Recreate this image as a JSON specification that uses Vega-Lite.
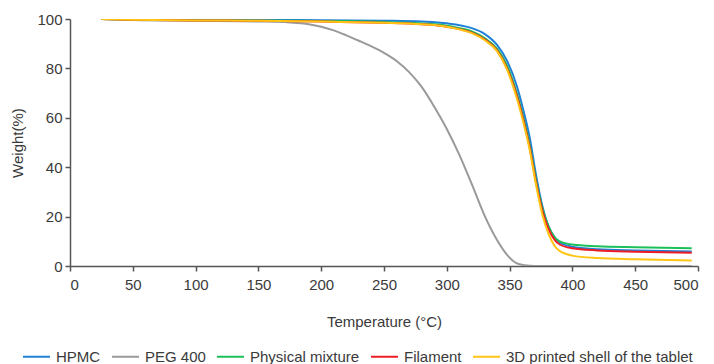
{
  "$schema": "https://vega.github.io/schema/vega-lite/v6.json",
  "width": 628,
  "height": 247,
  "autosize": "none",
  "padding": {"left": 70, "top": 19, "right": 16, "bottom": 98},
  "background": "white",
  "config": {
    "view": {"stroke": null},
    "font": "Liberation Sans",
    "axis": {"grid": false, "domainColor": "#555555", "domainWidth": 1.5, "tickColor": "#555555", "tickWidth": 1.5, "tickSize": 5, "labelFontSize": 15, "labelColor": "#3a3a3a", "titleFontSize": 15, "titleFontWeight": "normal", "titleColor": "#3a3a3a", "labelFont": "Liberation Sans", "titleFont": "Liberation Sans"}
  },
  "data": {"values": [
    {"s":"HPMC","t":25,"w":100},{"s":"HPMC","t":50,"w":99.8},{"s":"HPMC","t":100,"w":99.6},{"s":"HPMC","t":150,"w":99.6},{"s":"HPMC","t":200,"w":99.5},{"s":"HPMC","t":250,"w":99.3},{"s":"HPMC","t":280,"w":99},{"s":"HPMC","t":295,"w":98.5},{"s":"HPMC","t":310,"w":97.5},{"s":"HPMC","t":320,"w":96.3},{"s":"HPMC","t":330,"w":94},{"s":"HPMC","t":340,"w":89.5},{"s":"HPMC","t":348,"w":83},{"s":"HPMC","t":356,"w":72.5},{"s":"HPMC","t":361,"w":63},{"s":"HPMC","t":366,"w":52},{"s":"HPMC","t":371,"w":37},{"s":"HPMC","t":376,"w":24.5},{"s":"HPMC","t":381,"w":16},{"s":"HPMC","t":386,"w":11.5},{"s":"HPMC","t":390,"w":9.5},{"s":"HPMC","t":400,"w":7.8},{"s":"HPMC","t":420,"w":6.8},{"s":"HPMC","t":450,"w":6.3},{"s":"HPMC","t":495,"w":5.9},
    {"s":"PEG 400","t":25,"w":100},{"s":"PEG 400","t":50,"w":99.6},{"s":"PEG 400","t":100,"w":99.3},{"s":"PEG 400","t":150,"w":99},{"s":"PEG 400","t":175,"w":98.6},{"s":"PEG 400","t":190,"w":97.9},{"s":"PEG 400","t":200,"w":96.9},{"s":"PEG 400","t":210,"w":95.4},{"s":"PEG 400","t":220,"w":93.4},{"s":"PEG 400","t":230,"w":91.2},{"s":"PEG 400","t":240,"w":88.9},{"s":"PEG 400","t":250,"w":86.3},{"s":"PEG 400","t":260,"w":83},{"s":"PEG 400","t":270,"w":78.5},{"s":"PEG 400","t":280,"w":72.5},{"s":"PEG 400","t":290,"w":64.5},{"s":"PEG 400","t":300,"w":55.5},{"s":"PEG 400","t":310,"w":45},{"s":"PEG 400","t":320,"w":33},{"s":"PEG 400","t":330,"w":20.5},{"s":"PEG 400","t":340,"w":10.5},{"s":"PEG 400","t":348,"w":4.5},{"s":"PEG 400","t":355,"w":1.3},{"s":"PEG 400","t":362,"w":0.3},{"s":"PEG 400","t":370,"w":0},{"s":"PEG 400","t":400,"w":0},{"s":"PEG 400","t":450,"w":0},{"s":"PEG 400","t":495,"w":0},
    {"s":"Physical mixture","t":25,"w":100},{"s":"Physical mixture","t":50,"w":99.7},{"s":"Physical mixture","t":100,"w":99.5},{"s":"Physical mixture","t":150,"w":99.4},{"s":"Physical mixture","t":200,"w":99.2},{"s":"Physical mixture","t":250,"w":98.8},{"s":"Physical mixture","t":280,"w":98.2},{"s":"Physical mixture","t":295,"w":97.7},{"s":"Physical mixture","t":310,"w":96.3},{"s":"Physical mixture","t":320,"w":95},{"s":"Physical mixture","t":330,"w":92.3},{"s":"Physical mixture","t":340,"w":88},{"s":"Physical mixture","t":348,"w":81},{"s":"Physical mixture","t":356,"w":69.5},{"s":"Physical mixture","t":361,"w":60},{"s":"Physical mixture","t":366,"w":49},{"s":"Physical mixture","t":371,"w":35},{"s":"Physical mixture","t":376,"w":23.5},{"s":"Physical mixture","t":381,"w":16},{"s":"Physical mixture","t":386,"w":11.5},{"s":"Physical mixture","t":390,"w":10},{"s":"Physical mixture","t":400,"w":8.7},{"s":"Physical mixture","t":420,"w":8},{"s":"Physical mixture","t":450,"w":7.6},{"s":"Physical mixture","t":495,"w":7.2},
    {"s":"Filament","t":25,"w":100},{"s":"Filament","t":50,"w":99.7},{"s":"Filament","t":100,"w":99.4},{"s":"Filament","t":150,"w":99.3},{"s":"Filament","t":200,"w":99},{"s":"Filament","t":250,"w":98.5},{"s":"Filament","t":280,"w":97.9},{"s":"Filament","t":295,"w":97.3},{"s":"Filament","t":310,"w":95.9},{"s":"Filament","t":320,"w":94.5},{"s":"Filament","t":330,"w":91.8},{"s":"Filament","t":340,"w":87.3},{"s":"Filament","t":348,"w":80},{"s":"Filament","t":356,"w":68.5},{"s":"Filament","t":361,"w":59},{"s":"Filament","t":366,"w":48},{"s":"Filament","t":371,"w":34},{"s":"Filament","t":376,"w":22.5},{"s":"Filament","t":381,"w":15},{"s":"Filament","t":386,"w":10.5},{"s":"Filament","t":390,"w":8.7},{"s":"Filament","t":400,"w":7.2},{"s":"Filament","t":420,"w":6.3},{"s":"Filament","t":450,"w":5.8},{"s":"Filament","t":495,"w":5.4},
    {"s":"3D printed shell of the tablet","t":25,"w":100},{"s":"3D printed shell of the tablet","t":50,"w":99.7},{"s":"3D printed shell of the tablet","t":100,"w":99.4},{"s":"3D printed shell of the tablet","t":150,"w":99.3},{"s":"3D printed shell of the tablet","t":200,"w":99},{"s":"3D printed shell of the tablet","t":250,"w":98.5},{"s":"3D printed shell of the tablet","t":280,"w":97.9},{"s":"3D printed shell of the tablet","t":295,"w":97.3},{"s":"3D printed shell of the tablet","t":310,"w":95.8},{"s":"3D printed shell of the tablet","t":320,"w":94.3},{"s":"3D printed shell of the tablet","t":330,"w":91.5},{"s":"3D printed shell of the tablet","t":340,"w":87},{"s":"3D printed shell of the tablet","t":348,"w":79.5},{"s":"3D printed shell of the tablet","t":356,"w":67.5},{"s":"3D printed shell of the tablet","t":361,"w":58},{"s":"3D printed shell of the tablet","t":366,"w":47},{"s":"3D printed shell of the tablet","t":371,"w":33},{"s":"3D printed shell of the tablet","t":376,"w":21},{"s":"3D printed shell of the tablet","t":381,"w":13},{"s":"3D printed shell of the tablet","t":386,"w":8},{"s":"3D printed shell of the tablet","t":390,"w":6},{"s":"3D printed shell of the tablet","t":400,"w":4.2},{"s":"3D printed shell of the tablet","t":420,"w":3.2},{"s":"3D printed shell of the tablet","t":450,"w":2.7},{"s":"3D printed shell of the tablet","t":495,"w":2.2}
  ]},
  "mark": {"type": "line", "strokeWidth": 2, "interpolate": "monotone", "clip": true},
  "encoding": {
    "x": {"field": "t", "type": "quantitative", "title": "Temperature (°C)", "scale": {"domain": [0, 500], "nice": false}, "axis": {"values": [0,50,100,150,200,250,300,350,400,450,500], "labelPadding": 6, "titlePadding": 22}},
    "y": {"field": "w", "type": "quantitative", "title": "Weight(%)", "scale": {"domain": [0, 100], "nice": false}, "axis": {"values": [0,20,40,60,80,100], "labelPadding": 3, "titlePadding": 11}},
    "color": {"field": "s", "type": "nominal", "sort": ["HPMC","PEG 400","Physical mixture","Filament","3D printed shell of the tablet"],
      "scale": {"domain": ["HPMC","PEG 400","Physical mixture","Filament","3D printed shell of the tablet"], "range": ["#1f80d8","#9a9a9a","#1cc05a","#ee1c25","#ffc414"]},
      "legend": {"title": null, "orient": "none", "legendX": -48, "legendY": 323, "direction": "horizontal", "symbolType": "stroke", "symbolStrokeWidth": 2, "symbolSize": 729, "labelFontSize": 15, "labelLimit": 400, "labelColor": "#3a3a3a", "labelFont": "Liberation Sans", "labelOffset": 5, "columnPadding": 7, "padding": 0}},
    "order": {"field": "t", "type": "quantitative"}
  }
}
